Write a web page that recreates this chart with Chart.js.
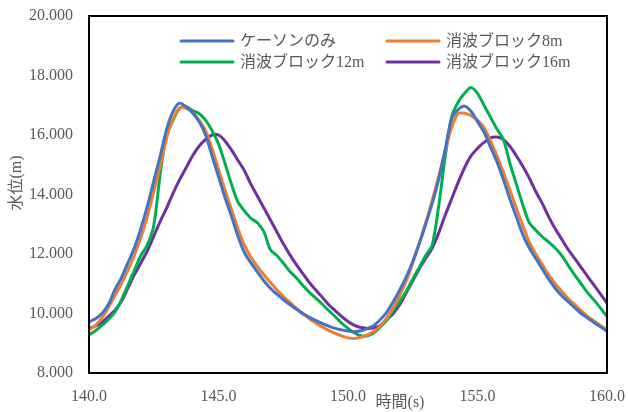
<!DOCTYPE html>
<html lang="ja">
<head>
<meta charset="UTF-8">
<title>水位</title>
<script src="https://cdn.jsdelivr.net/npm/chart.js"></script>
<style>
  html, body { margin: 0; padding: 0; background: #fff; }
  #wrap { width: 628px; height: 412px; }
</style>
</head>
<body>
<div id="wrap"><canvas id="c" width="628" height="412"></canvas></div>
<script>
// time axis, 0.25 s steps from 140.0 to 160.0
var times = [];
for (var i = 0; i <= 80; i++) times.push(140 + i * 0.25);

var seriesNames = ['ケーソンのみ', '消波ブロック8m', '消波ブロック12m', '消波ブロック16m'];
var seriesColors = ['#4472C4', '#ED7D31', '#00B050', '#7030A0'];

var caisson = [
  9.72, 9.82, 10.0, 10.3, 10.8, 11.2, 11.7, 12.2, 12.85, 13.6,
  14.45, 15.3, 16.2, 16.8, 17.07, 16.95, 16.75, 16.45, 16.0, 15.3,
  14.6, 13.9, 13.27, 12.6, 12.05, 11.7, 11.4, 11.1, 10.85, 10.65,
  10.47, 10.3, 10.15, 10.0, 9.88, 9.77, 9.67, 9.58, 9.5, 9.45,
  9.41, 9.39, 9.42, 9.5, 9.6, 9.8, 10.05, 10.4, 10.8, 11.23,
  11.75, 12.35, 13.0, 13.7, 14.5, 15.5, 16.55, 16.85, 16.97, 16.8,
  16.45, 16.1, 15.6, 15.1, 14.5, 13.85, 13.25, 12.65, 12.2, 11.85,
  11.5, 11.15, 10.85, 10.6, 10.4, 10.2, 10.0, 9.85, 9.7, 9.55,
  9.4
];
var block8 = [
  9.45, 9.6, 9.85, 10.2, 10.6, 11.0, 11.45, 11.95, 12.55, 13.25,
  14.1, 14.95, 15.9, 16.55, 16.9, 16.9, 16.75, 16.5, 16.15, 15.55,
  14.85, 14.15, 13.5, 12.85, 12.3, 11.9, 11.58, 11.3, 11.05, 10.8,
  10.58, 10.38, 10.18, 10.0, 9.83, 9.68, 9.55, 9.43, 9.33, 9.25,
  9.18, 9.16, 9.2, 9.28, 9.4, 9.58, 9.85, 10.2, 10.6, 11.1,
  11.7, 12.35, 13.05, 13.8, 14.6, 15.45, 16.25, 16.72, 16.73, 16.65,
  16.5, 16.25, 15.8, 15.3, 14.75, 14.15, 13.55, 12.95, 12.4, 12.0,
  11.65, 11.3, 11.0, 10.75, 10.5, 10.3, 10.1, 9.9, 9.75, 9.6,
  9.45
];
var block12 = [
  9.28, 9.42, 9.6, 9.8, 10.05, 10.45, 10.95, 11.45, 11.95, 12.3,
  12.95, 14.7, 16.0, 16.5, 16.9, 16.95, 16.82, 16.72, 16.5, 16.15,
  15.7, 15.05, 14.35, 13.75, 13.45, 13.2, 13.05, 12.75, 12.15, 11.95,
  11.7, 11.42, 11.2, 10.95, 10.72, 10.52, 10.32, 10.1, 9.9, 9.68,
  9.5, 9.35, 9.25, 9.25, 9.35, 9.55, 9.78, 10.1, 10.4, 10.75,
  11.15, 11.55, 11.95, 12.3, 13.6, 15.25, 16.6, 17.1, 17.4, 17.6,
  17.4, 17.0, 16.6, 16.2, 15.85, 15.05, 14.35, 13.65, 13.05, 12.8,
  12.58, 12.4, 12.2, 11.95, 11.62, 11.3, 11.0, 10.7, 10.45, 10.18,
  9.9
];
var block16 = [
  9.5, 9.58, 9.7, 9.9, 10.1, 10.4, 10.85, 11.3, 11.7, 12.1,
  12.6, 13.1, 13.55, 14.05, 14.5, 14.9, 15.3, 15.62, 15.85, 16.0,
  16.0, 15.8, 15.5, 15.15, 14.8, 14.35, 13.95, 13.55, 13.15, 12.75,
  12.35, 11.98, 11.65, 11.35, 11.05, 10.8, 10.55, 10.3, 10.1, 9.9,
  9.73, 9.6, 9.53, 9.5, 9.52, 9.6, 9.8, 10.0, 10.3, 10.7,
  11.1, 11.5, 11.85, 12.2, 12.7, 13.3, 13.85, 14.4, 14.9, 15.3,
  15.55, 15.75, 15.9, 15.93, 15.85, 15.62, 15.3, 14.95, 14.55, 14.1,
  13.7, 13.25, 12.85, 12.5, 12.15, 11.85, 11.55, 11.25, 10.95, 10.65,
  10.35
];
var seriesValues = [caisson, block8, block12, block16];

var yTitle = '水位(m)';
var xTitle = '時間(s)';

var textFont = '"Liberation Serif", "Noto Sans CJK JP", serif';
var textColor = '#595959';

function toPoints(vals) {
  return vals.map(function (v, i) { return { x: times[i], y: v }; });
}

// frame, axis titles and the in-plot legend
var decor = {
  id: 'decor',
  afterDatasetsDraw: function (chart) {
    var ctx = chart.ctx, a = chart.chartArea;
    ctx.save();
    ctx.strokeStyle = '#000';
    ctx.lineWidth = 2;
    ctx.strokeRect(a.left, a.top, a.right - a.left, a.bottom - a.top);
    ctx.restore();
  },
  afterDraw: function (chart) {
    var ctx = chart.ctx;
    ctx.save();
    ctx.fillStyle = textColor;
    ctx.font = '16px ' + textFont;
    ctx.textAlign = 'center';
    ctx.textBaseline = 'middle';
    ctx.fillText(xTitle, 400, 403);
    ctx.translate(17, 183);
    ctx.rotate(-Math.PI / 2);
    ctx.fillText(yTitle, 0, 0);
    ctx.restore();

    var cols = [181, 387], rows = [41, 62];
    ctx.save();
    ctx.font = '16px ' + textFont;
    ctx.textBaseline = 'middle';
    ctx.textAlign = 'left';
    chart.data.datasets.forEach(function (ds, i) {
      var x = cols[i % 2], y = rows[Math.floor(i / 2)];
      ctx.strokeStyle = ds.borderColor;
      ctx.lineWidth = 3;
      ctx.lineCap = 'round';
      ctx.beginPath();
      ctx.moveTo(x, y);
      ctx.lineTo(x + 52, y);
      ctx.stroke();
      ctx.fillStyle = textColor;
      ctx.fillText(ds.label, x + 59, y + 1);
    });
    ctx.restore();
  }
};

new Chart(document.getElementById('c'), {
  type: 'line',
  data: {
    datasets: seriesNames.map(function (name, i) {
      return {
        label: name,
        data: toPoints(seriesValues[i]),
        borderColor: seriesColors[i],
        backgroundColor: seriesColors[i],
        borderWidth: 3,
        pointRadius: 0,
        tension: 0.3,
        fill: false
      };
    })
  },
  options: {
    responsive: false,
    animation: false,
    events: [],
    layout: { padding: { left: 0, right: 21, top: 16, bottom: 0 } },
    plugins: { legend: { display: false }, tooltip: { enabled: false } },
    scales: {
      x: {
        type: 'linear',
        min: 140,
        max: 160,
        grid: { display: false, drawTicks: false },
        border: { display: false },
        ticks: {
          stepSize: 5,
          padding: 14,
          color: textColor,
          font: { family: textFont, size: 16 },
          maxRotation: 0,
          callback: function (v) { return v.toFixed(1); }
        },
        afterFit: function (s) {
          s.height = 39;
          s.paddingLeft = 0;
          s.paddingRight = 0;
        }
      },
      y: {
        min: 8,
        max: 20,
        grid: { display: false, drawTicks: false },
        border: { display: false },
        ticks: {
          stepSize: 2,
          padding: 16,
          color: textColor,
          font: { family: textFont, size: 16 },
          callback: function (v) { return v.toFixed(3); }
        },
        afterFit: function (s) {
          s.width = 89;
          s.paddingTop = 0;
          s.paddingBottom = 0;
        }
      }
    }
  },
  plugins: [decor]
});
</script>
</body>
</html>
